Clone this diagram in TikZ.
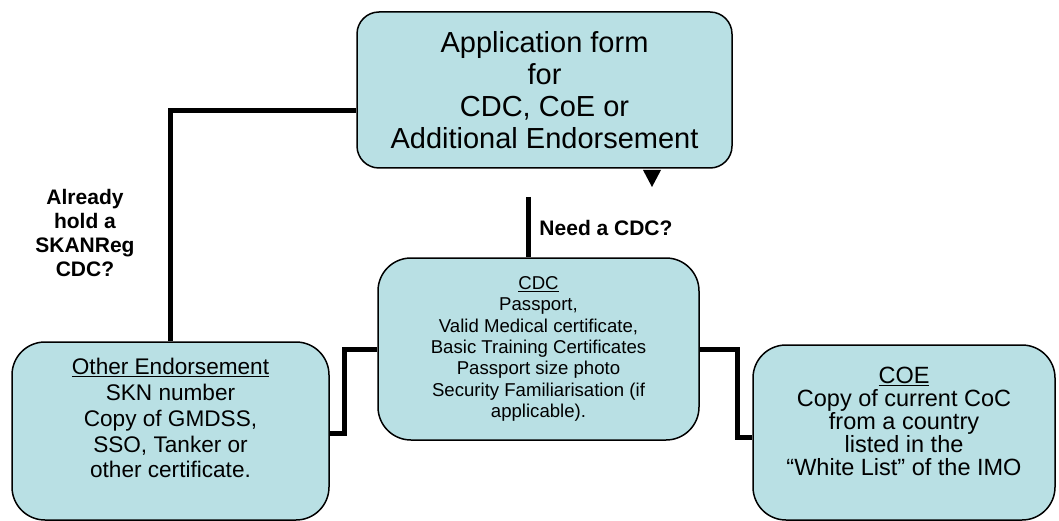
\documentclass[tikz,border=0pt]{standalone}
\usepackage{fontspec}
\setmainfont{Liberation Sans}
\usetikzlibrary{positioning}

\definecolor{boxfill}{RGB}{185,224,228}
\tikzset{
  box/.style={draw, fill=boxfill, line width=1.5pt, align=center, inner sep=0pt},
  link/.style={line width=5pt},
  ask/.style={font=\fontsize{21}{24}\selectfont\bfseries, align=center},
}

\begin{document}
\begin{tikzpicture}[x=1pt,y=-1pt]
  \useasboundingbox (0,0) rectangle (1059,521);

  %---------------- boxes ----------------
  \node[box, rounded corners=22pt, minimum width=375pt, minimum height=156pt,
        font=\fontsize{29}{32}\selectfont] (app) at (544.5,90)
    {Application form\\for\\CDC, CoE or\\Additional Endorsement};

  \node[box, rounded corners=33pt, minimum width=321pt, minimum height=182pt,
        font=\fontsize{18.6}{21.3}\selectfont] (cdc) at (538.5,349)
    {\underline{CDC}\\Passport,\\Valid Medical certificate,\\Basic Training Certificates\\
     Passport size photo\\Security Familiarisation (if\\applicable).};

  \node[box, rounded corners=33pt, minimum width=317pt, minimum height=178pt,
        font=\fontsize{22.6}{25.8}\selectfont] (other) at (170.5,431)
    {\underline{Other Endorsement}\\SKN number\\Copy of GMDSS,\\SSO, Tanker or\\
     other certificate.\\\mbox{}};

  \node[box, rounded corners=33pt, minimum width=302pt, minimum height=175pt,
        font=\fontsize{23.5}{23}\selectfont] (coe) at (904,432.5)
    {\underline{COE}\\Copy of current CoC\\from a country\\listed in the\\
     ``White List'' of the IMO\\\mbox{}};

  %---------------- questions ----------------
  \node[ask] (hold) at (85,233) {Already\\hold a\\SKANReg\\CDC?};
  \node[ask] (need) at (606,228) {Need a CDC?};

  %---------------- links ----------------
  \draw[link] ([yshift=-21pt]app.west) -| (other.north);
  \coordinate (needtop) at (528,197);
  \draw[link] (needtop) -- (needtop |- cdc.north);
  \draw[link] ([yshift=-2pt]other.east) -- ++(15,0) |- (cdc.west);
  \draw[link] (cdc.east) -- ++(38,0) |- ([yshift=-4.5pt]coe.west);
  \fill (643,170) -- (661,170) -- (652,187) -- cycle;
\end{tikzpicture}
\end{document}
